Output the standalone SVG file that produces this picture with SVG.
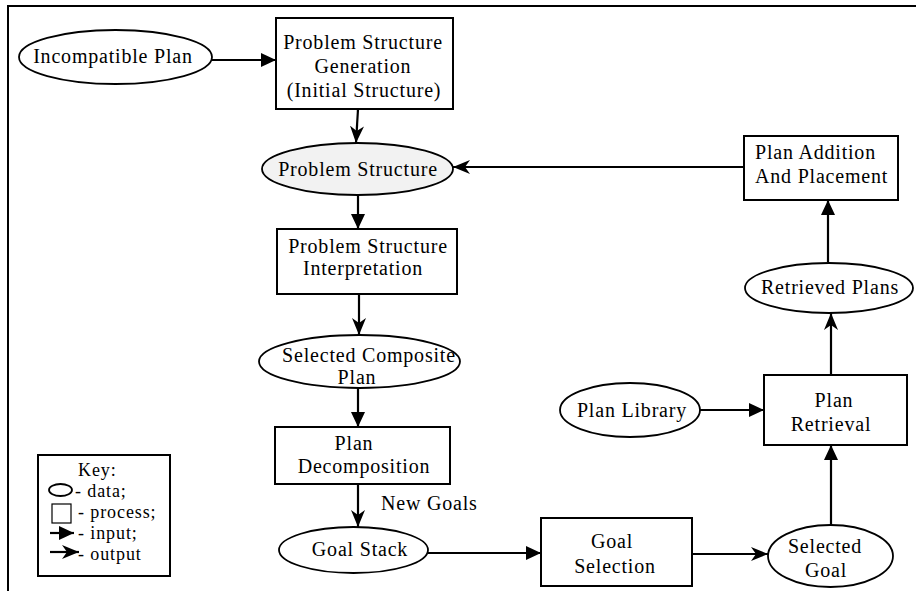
<svg xmlns="http://www.w3.org/2000/svg" width="916" height="591" viewBox="0 0 916 591">
  <style>
    .frame { fill: none; stroke: #000; stroke-width: 2; }
    .box { fill: #fff; stroke: #000; stroke-width: 2; }
    .data { fill: #fff; stroke: #000; stroke-width: 1.8; }
    .data.shaded { fill: #f2f2f2; }
    .lbl { font-family: "Liberation Serif", "Times New Roman", serif; font-size: 20px; letter-spacing: 0.8px; fill: #000; }
    .key { font-size: 18px; letter-spacing: 0.9px; }
    .mid { text-anchor: middle; }
    .edge { fill: none; stroke: #000; stroke-width: 2.2; }
    .in { marker-end: url(#input); }
    .out { marker-end: url(#output); }
  </style>
  <defs>
    <!-- solid head: an input into a process -->
    <marker id="input" markerUnits="userSpaceOnUse" markerWidth="16" markerHeight="15" refX="15" refY="7" orient="auto">
      <path d="M0,0 L15,7 L0,14 z" fill="#000"/>
    </marker>
    <!-- barbed head: an output of a process -->
    <marker id="output" markerUnits="userSpaceOnUse" markerWidth="18" markerHeight="15" refX="17" refY="7" orient="auto">
      <path d="M0,0 L17,7 L0,14 L5,7 z" fill="#000"/>
    </marker>
  </defs>

  <rect width="916" height="591" fill="#fff"/>
  <path class="frame" d="M8,591 L8,6 L916,6"/>

  <!-- connectors -->
  <g id="connectors">
    <line class="edge in" x1="212" y1="60" x2="276" y2="60"/>
    <line class="edge out" x1="358" y1="109" x2="356" y2="143"/>
    <line class="edge out" x1="744" y1="167" x2="453" y2="167"/>
    <line class="edge in" x1="358" y1="195" x2="358" y2="229"/>
    <line class="edge out" x1="359" y1="294" x2="359" y2="335"/>
    <line class="edge in" x1="358" y1="388" x2="358" y2="427"/>
    <line class="edge out" x1="358" y1="484" x2="358" y2="527"/>
    <line class="edge in" x1="428" y1="553" x2="541" y2="553"/>
    <line class="edge out" x1="692" y1="554" x2="768" y2="554"/>
    <line class="edge in" x1="831" y1="525" x2="831" y2="445"/>
    <line class="edge in" x1="700" y1="410" x2="764" y2="410"/>
    <line class="edge out" x1="831" y1="375" x2="831" y2="313"/>
    <line class="edge in" x1="828" y1="262" x2="828" y2="200"/>
  </g>

  <g id="incompatible-plan">
    <ellipse class="data" cx="115.5" cy="57" rx="96.5" ry="27"/>
    <text class="lbl mid" x="113" y="63">Incompatible Plan</text>
  </g>

  <g id="problem-structure-generation">
    <rect class="box" x="276" y="18" width="177" height="91"/>
    <text class="lbl mid" x="363" y="49">Problem Structure</text>
    <text class="lbl mid" x="363" y="73">Generation</text>
    <text class="lbl mid" x="364" y="97">(Initial Structure)</text>
  </g>

  <g id="problem-structure">
    <ellipse class="data shaded" cx="357.5" cy="169" rx="95.5" ry="26"/>
    <text class="lbl mid" x="358" y="176">Problem Structure</text>
  </g>

  <g id="problem-structure-interpretation">
    <rect class="box" x="277" y="229" width="180" height="65"/>
    <text class="lbl mid" x="368" y="253">Problem Structure</text>
    <text class="lbl mid" x="363" y="275">Interpretation</text>
  </g>

  <g id="selected-composite-plan">
    <ellipse class="data" cx="359.5" cy="361.5" rx="100.5" ry="26.5"/>
    <text class="lbl mid" x="369" y="362">Selected Composite</text>
    <text class="lbl mid" x="357" y="384">Plan</text>
  </g>

  <g id="plan-decomposition">
    <rect class="box" x="275" y="427" width="175" height="57"/>
    <text class="lbl mid" x="354" y="450">Plan</text>
    <text class="lbl mid" x="364" y="473">Decomposition</text>
  </g>

  <g id="goal-stack">
    <ellipse class="data" cx="353.5" cy="550" rx="74.5" ry="23"/>
    <text class="lbl mid" x="360" y="556">Goal Stack</text>
  </g>

  <text class="lbl" x="381" y="510">New Goals</text>

  <g id="goal-selection">
    <rect class="box" x="541" y="518" width="151" height="68"/>
    <text class="lbl mid" x="612" y="548">Goal</text>
    <text class="lbl mid" x="615" y="573">Selection</text>
  </g>

  <g id="selected-goal">
    <ellipse class="data" cx="830.5" cy="556" rx="62.5" ry="31"/>
    <text class="lbl mid" x="825" y="553">Selected</text>
    <text class="lbl mid" x="826" y="577">Goal</text>
  </g>

  <g id="plan-library">
    <ellipse class="data" cx="630" cy="410" rx="70" ry="27"/>
    <text class="lbl mid" x="632" y="417">Plan Library</text>
  </g>

  <g id="plan-retrieval">
    <rect class="box" x="764" y="375" width="143" height="70"/>
    <text class="lbl mid" x="834" y="407">Plan</text>
    <text class="lbl mid" x="831" y="431">Retrieval</text>
  </g>

  <g id="retrieved-plans">
    <ellipse class="data" cx="829" cy="288" rx="84" ry="25"/>
    <text class="lbl mid" x="830" y="294">Retrieved Plans</text>
  </g>

  <g id="plan-addition-and-placement">
    <rect class="box" x="744" y="136" width="154" height="64"/>
    <text class="lbl" x="755" y="159">Plan Addition</text>
    <text class="lbl" x="755" y="183">And Placement</text>
  </g>

  <!-- legend -->
  <g id="key">
    <rect class="box" x="38" y="455" width="132" height="121"/>
    <text class="lbl key" x="78" y="476">Key:</text>
    <ellipse class="data" cx="60.5" cy="490" rx="11.5" ry="6" stroke-width="1.2"/>
    <text class="lbl key" x="75" y="497">- data;</text>
    <rect x="52" y="504" width="19" height="19" fill="#fff" stroke="#000" stroke-width="1.2"/>
    <text class="lbl key" x="78" y="518">- process;</text>
    <line class="edge in" x1="50" y1="533" x2="74" y2="533"/>
    <text class="lbl key" x="78" y="539">- input;</text>
    <line class="edge out" x1="50" y1="552" x2="79" y2="552"/>
    <text class="lbl key" x="78" y="560">- output</text>
  </g>
</svg>
